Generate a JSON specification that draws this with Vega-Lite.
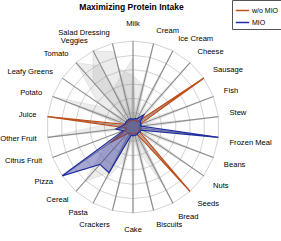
{
  "$schema": "https://vega.github.io/schema/vega-lite/v6.json",
  "width": 281,
  "height": 221,
  "autosize": {"type": "none"},
  "padding": {"top": 20, "left": 0, "right": 0, "bottom": 0},
  "title": {"text": "Maximizing Protein Intake", "frame": "group", "fontSize": 8.5, "font": "Liberation Sans", "fontWeight": "bold", "offset": -12, "dx": -9, "anchor": "middle", "color": "#000000"},
  "config": {"view": {"stroke": null}, "font": "Liberation Sans"},
  "datasets": {
    "cats": [
      {"cat": "Milk", "i": 0, "wo": 0.08, "mio": 0.09, "g1": 0.1, "g2": 0.1, "g3": 0.8, "g4": 0.1, "g5": 0.1, "g6": 0.1, "g7": 0.1, "g8": 0.1, "g9": 0.1, "g10": 0.6, "g11": 0.1, "g12": 0.1, "g13": 0.9},
      {"cat": "Cream", "i": 1, "wo": 0.08, "mio": 0.1, "g1": 0.1, "g2": 0.1, "g3": 0.1, "g4": 0.1, "g5": 0.1, "g6": 0.1, "g7": 0.1, "g8": 0.1, "g9": 0.1, "g10": 0.5, "g11": 0.1, "g12": 1.0, "g13": 0.1},
      {"cat": "Ice Cream", "i": 2, "wo": 0.08, "mio": 0.11, "g1": 0.1, "g2": 0.1, "g3": 0.1, "g4": 0.1, "g5": 0.1, "g6": 0.1, "g7": 0.1, "g8": 0.1, "g9": 0.1, "g10": 0.1, "g11": 1.0, "g12": 0.1, "g13": 0.1},
      {"cat": "Cheese", "i": 3, "wo": 0.08, "mio": 0.19, "g1": 0.1, "g2": 0.1, "g3": 0.1, "g4": 0.1, "g5": 0.1, "g6": 0.1, "g7": 0.1, "g8": 0.1, "g9": 0.1, "g10": 0.1, "g11": 0.1, "g12": 0.1, "g13": 1.0},
      {"cat": "Sausage", "i": 4, "wo": 1.0, "mio": 0.1, "g1": 0.1, "g2": 0.1, "g3": 0.1, "g4": 0.1, "g5": 0.1, "g6": 0.1, "g7": 0.1, "g8": 0.1, "g9": 0.1, "g10": 0.1, "g11": 0.1, "g12": 0.1, "g13": 0.1},
      {"cat": "Fish", "i": 5, "wo": 0.08, "mio": 0.1, "g1": 0.1, "g2": 0.1, "g3": 0.1, "g4": 0.1, "g5": 0.1, "g6": 0.1, "g7": 0.1, "g8": 0.1, "g9": 0.1, "g10": 0.1, "g11": 0.1, "g12": 0.9, "g13": 0.1},
      {"cat": "Stew", "i": 6, "wo": 0.08, "mio": 0.09, "g1": 0.1, "g2": 0.1, "g3": 0.1, "g4": 0.1, "g5": 0.1, "g6": 0.1, "g7": 0.1, "g8": 0.1, "g9": 0.1, "g10": 0.1, "g11": 0.85, "g12": 0.1, "g13": 0.1},
      {"cat": "Frozen Meal", "i": 7, "wo": 0.08, "mio": 1.0, "g1": 0.1, "g2": 0.1, "g3": 0.1, "g4": 0.1, "g5": 0.1, "g6": 0.1, "g7": 0.1, "g8": 0.1, "g9": 0.1, "g10": 0.1, "g11": 0.1, "g12": 0.1, "g13": 0.1},
      {"cat": "Beans", "i": 8, "wo": 0.08, "mio": 0.1, "g1": 0.1, "g2": 0.1, "g3": 0.1, "g4": 0.1, "g5": 0.1, "g6": 0.1, "g7": 0.1, "g8": 0.1, "g9": 0.1, "g10": 0.1, "g11": 0.1, "g12": 1.0, "g13": 0.1},
      {"cat": "Nuts", "i": 9, "wo": 0.08, "mio": 0.1, "g1": 0.1, "g2": 0.1, "g3": 0.1, "g4": 0.1, "g5": 0.1, "g6": 0.1, "g7": 0.1, "g8": 0.1, "g9": 0.1, "g10": 0.1, "g11": 1.0, "g12": 0.1, "g13": 0.1},
      {"cat": "Seeds", "i": 10, "wo": 1.0, "mio": 0.09, "g1": 0.1, "g2": 0.1, "g3": 0.1, "g4": 0.1, "g5": 0.1, "g6": 0.1, "g7": 0.1, "g8": 0.1, "g9": 0.1, "g10": 0.1, "g11": 0.1, "g12": 0.1, "g13": 0.1},
      {"cat": "Bread", "i": 11, "wo": 0.08, "mio": 0.1, "g1": 0.1, "g2": 0.1, "g3": 0.1, "g4": 0.1, "g5": 0.1, "g6": 1.0, "g7": 0.8, "g8": 0.1, "g9": 0.1, "g10": 0.1, "g11": 0.1, "g12": 0.1, "g13": 0.1},
      {"cat": "Biscuits", "i": 12, "wo": 0.08, "mio": 0.1, "g1": 0.1, "g2": 0.1, "g3": 0.1, "g4": 0.1, "g5": 0.1, "g6": 0.1, "g7": 0.3, "g8": 0.1, "g9": 0.1, "g10": 0.1, "g11": 0.1, "g12": 1.0, "g13": 0.1},
      {"cat": "Cake", "i": 13, "wo": 0.08, "mio": 0.1, "g1": 0.1, "g2": 0.1, "g3": 0.1, "g4": 0.1, "g5": 0.1, "g6": 0.1, "g7": 0.1, "g8": 0.1, "g9": 0.1, "g10": 0.1, "g11": 1.0, "g12": 0.1, "g13": 0.1},
      {"cat": "Crackers", "i": 14, "wo": 0.08, "mio": 0.1, "g1": 0.1, "g2": 0.1, "g3": 0.1, "g4": 0.1, "g5": 0.1, "g6": 0.1, "g7": 0.1, "g8": 0.1, "g9": 0.4, "g10": 0.1, "g11": 0.1, "g12": 0.1, "g13": 0.95},
      {"cat": "Pasta", "i": 15, "wo": 0.08, "mio": 0.6, "g1": 0.1, "g2": 0.1, "g3": 0.1, "g4": 0.1, "g5": 0.1, "g6": 0.1, "g7": 0.1, "g8": 0.6, "g9": 0.7, "g10": 0.1, "g11": 0.1, "g12": 0.1, "g13": 0.1},
      {"cat": "Cereal", "i": 16, "wo": 0.1, "mio": 0.58, "g1": 0.1, "g2": 0.1, "g3": 0.1, "g4": 0.1, "g5": 0.1, "g6": 0.1, "g7": 0.1, "g8": 0.85, "g9": 0.1, "g10": 0.1, "g11": 0.1, "g12": 0.1, "g13": 0.1},
      {"cat": "Pizza", "i": 17, "wo": 0.32, "mio": 1.0, "g1": 0.1, "g2": 0.1, "g3": 0.1, "g4": 0.1, "g5": 0.1, "g6": 0.1, "g7": 0.1, "g8": 0.4, "g9": 0.1, "g10": 0.1, "g11": 0.1, "g12": 0.1, "g13": 0.1},
      {"cat": "Citrus Fruit", "i": 18, "wo": 0.08, "mio": 0.12, "g1": 0.1, "g2": 0.1, "g3": 0.1, "g4": 0.1, "g5": 0.1, "g6": 0.1, "g7": 0.1, "g8": 0.1, "g9": 0.1, "g10": 0.1, "g11": 0.1, "g12": 0.1, "g13": 0.1},
      {"cat": "Other Fruit", "i": 19, "wo": 0.08, "mio": 0.2, "g1": 0.1, "g2": 0.1, "g3": 0.1, "g4": 0.1, "g5": 1.0, "g6": 0.1, "g7": 0.1, "g8": 0.1, "g9": 0.1, "g10": 0.1, "g11": 0.1, "g12": 0.1, "g13": 0.1},
      {"cat": "Juice", "i": 20, "wo": 1.0, "mio": 0.12, "g1": 0.1, "g2": 0.1, "g3": 0.1, "g4": 0.1, "g5": 0.3, "g6": 0.1, "g7": 0.1, "g8": 0.1, "g9": 0.1, "g10": 0.1, "g11": 0.1, "g12": 0.1, "g13": 0.1},
      {"cat": "Potato", "i": 21, "wo": 0.08, "mio": 0.1, "g1": 0.1, "g2": 0.1, "g3": 0.1, "g4": 1.0, "g5": 0.1, "g6": 0.1, "g7": 0.1, "g8": 0.1, "g9": 0.1, "g10": 0.1, "g11": 0.1, "g12": 0.1, "g13": 0.8},
      {"cat": "Leafy Greens", "i": 22, "wo": 0.08, "mio": 0.1, "g1": 0.1, "g2": 0.5, "g3": 0.1, "g4": 0.4, "g5": 0.1, "g6": 0.1, "g7": 0.1, "g8": 0.1, "g9": 0.1, "g10": 0.1, "g11": 0.1, "g12": 0.1, "g13": 0.1},
      {"cat": "Tomato", "i": 23, "wo": 0.08, "mio": 0.1, "g1": 0.7, "g2": 1.0, "g3": 0.1, "g4": 0.1, "g5": 0.1, "g6": 0.1, "g7": 0.1, "g8": 0.1, "g9": 0.1, "g10": 0.1, "g11": 0.1, "g12": 0.1, "g13": 0.1},
      {"cat": "Veggies", "i": 24, "wo": 0.08, "mio": 0.1, "g1": 1.0, "g2": 0.8, "g3": 0.5, "g4": 0.1, "g5": 0.1, "g6": 0.1, "g7": 0.1, "g8": 0.1, "g9": 0.1, "g10": 0.1, "g11": 0.1, "g12": 0.1, "g13": 0.1},
      {"cat": "Salad Dressing", "i": 25, "wo": 0.08, "mio": 0.1, "g1": 0.9, "g2": 0.1, "g3": 0.6, "g4": 0.1, "g5": 0.1, "g6": 0.1, "g7": 0.1, "g8": 0.1, "g9": 0.1, "g10": 0.7, "g11": 0.1, "g12": 0.1, "g13": 0.1}
    ],
    "rings": [
      {"ring": 1, "i": [0,1,2,3,4,5,6,7,8,9,10,11,12,13,14,15,16,17,18,19,20,21,22,23,24,25]},
      {"ring": 2, "i": [0,1,2,3,4,5,6,7,8,9,10,11,12,13,14,15,16,17,18,19,20,21,22,23,24,25]},
      {"ring": 3, "i": [0,1,2,3,4,5,6,7,8,9,10,11,12,13,14,15,16,17,18,19,20,21,22,23,24,25]},
      {"ring": 4, "i": [0,1,2,3,4,5,6,7,8,9,10,11,12,13,14,15,16,17,18,19,20,21,22,23,24,25]},
      {"ring": 5, "i": [0,1,2,3,4,5,6,7,8,9,10,11,12,13,14,15,16,17,18,19,20,21,22,23,24,25]},
      {"ring": 6, "i": [0,1,2,3,4,5,6,7,8,9,10,11,12,13,14,15,16,17,18,19,20,21,22,23,24,25]}
    ]
  },
  "layer": [
    {
      "data": {"name": "rings"},
      "transform": [
        {"flatten": ["i"]},
        {"calculate": "datum.ring / 6 * sin(datum.i * 2 * PI / 26)", "as": "x"},
        {"calculate": "datum.ring / 6 * cos(datum.i * 2 * PI / 26)", "as": "y"}
      ],
      "mark": {"type": "line", "interpolate": "linear-closed", "stroke": "#c8c8c8", "strokeWidth": 0.8},
      "encoding": {
        "x": {"field": "x", "type": "quantitative", "axis": null, "scale": {"domain": [-1.5465, 1.7209], "nice": false, "zero": false}},
        "y": {"field": "y", "type": "quantitative", "axis": null, "scale": {"domain": [-1.3256, 1.2442], "nice": false, "zero": false}},
        "detail": {"field": "ring", "type": "nominal"},
        "order": {"field": "i", "type": "quantitative"}
      }
    },
    {
      "data": {"name": "cats"},
      "transform": [
        {"fold": ["g1", "g2", "g3", "g4", "g5", "g6", "g7", "g8", "g9", "g10", "g11", "g12", "g13"], "as": ["sample", "v"]},
        {"calculate": "datum.v * sin(datum.i * 2 * PI / 26)", "as": "x"},
        {"calculate": "datum.v * cos(datum.i * 2 * PI / 26)", "as": "y"}
      ],
      "mark": {"type": "line", "interpolate": "linear-closed", "fill": "#7a7a7a", "fillOpacity": 0.14, "stroke": "#777777", "strokeOpacity": 0.25, "strokeWidth": 0.5},
      "encoding": {
        "x": {"field": "x", "type": "quantitative", "axis": null, "scale": {"domain": [-1.5465, 1.7209], "nice": false, "zero": false}},
        "y": {"field": "y", "type": "quantitative", "axis": null, "scale": {"domain": [-1.3256, 1.2442], "nice": false, "zero": false}},
        "detail": {"field": "sample", "type": "nominal"},
        "order": {"field": "i", "type": "quantitative"}
      }
    },
    {
      "data": {"name": "cats"},
      "transform": [
        {"calculate": "0", "as": "cx"},
        {"calculate": "0", "as": "cy"},
        {"calculate": "sin(datum.i * 2 * PI / 26)", "as": "sx"},
        {"calculate": "cos(datum.i * 2 * PI / 26)", "as": "sy"}
      ],
      "mark": {"type": "rule", "stroke": "#8c8c8c", "strokeWidth": 1.1},
      "encoding": {
        "x": {"field": "cx", "type": "quantitative", "axis": null, "scale": {"domain": [-1.5465, 1.7209], "nice": false, "zero": false}},
        "y": {"field": "cy", "type": "quantitative", "axis": null, "scale": {"domain": [-1.3256, 1.2442], "nice": false, "zero": false}},
        "x2": {"field": "sx"},
        "y2": {"field": "sy"}
      }
    },
    {
      "data": {"name": "cats"},
      "transform": [
        {"calculate": "'w/o MIO'", "as": "series"},
        {"calculate": "datum.wo * sin(datum.i * 2 * PI / 26)", "as": "x"},
        {"calculate": "datum.wo * cos(datum.i * 2 * PI / 26)", "as": "y"}
      ],
      "mark": {"type": "line", "interpolate": "linear-closed", "strokeWidth": 1.3},
      "encoding": {
        "x": {"field": "x", "type": "quantitative", "axis": null, "scale": {"domain": [-1.5465, 1.7209], "nice": false, "zero": false}},
        "y": {"field": "y", "type": "quantitative", "axis": null, "scale": {"domain": [-1.3256, 1.2442], "nice": false, "zero": false}},
        "color": {"field": "series", "type": "nominal", "scale": {"domain": ["w/o MIO", "MIO"], "range": ["#c0501a", "#1f2ea3"]}, "legend": {"title": null, "orient": "none", "legendX": 232, "legendY": -20, "fillColor": "#ffffff", "strokeColor": "#555555", "padding": 3, "symbolType": "stroke", "symbolSize": 180, "symbolStrokeWidth": 1.5, "labelFontSize": 7, "labelFont": "Liberation Sans", "labelColor": "#000000", "rowPadding": 1, "labelOffset": 2}},
        "order": {"field": "i", "type": "quantitative"}
      }
    },
    {
      "data": {"name": "cats"},
      "transform": [
        {"calculate": "datum.mio * sin(datum.i * 2 * PI / 26)", "as": "x"},
        {"calculate": "datum.mio * cos(datum.i * 2 * PI / 26)", "as": "y"}
      ],
      "mark": {"type": "line", "interpolate": "linear-closed", "fill": "#3a3f9e", "fillOpacity": 0.45, "strokeOpacity": 0},
      "encoding": {
        "x": {"field": "x", "type": "quantitative", "axis": null, "scale": {"domain": [-1.5465, 1.7209], "nice": false, "zero": false}},
        "y": {"field": "y", "type": "quantitative", "axis": null, "scale": {"domain": [-1.3256, 1.2442], "nice": false, "zero": false}},
        "order": {"field": "i", "type": "quantitative"}
      }
    },
    {
      "data": {"name": "cats"},
      "transform": [
        {"calculate": "'MIO'", "as": "series"},
        {"calculate": "datum.mio * sin(datum.i * 2 * PI / 26)", "as": "x"},
        {"calculate": "datum.mio * cos(datum.i * 2 * PI / 26)", "as": "y"}
      ],
      "mark": {"type": "line", "interpolate": "linear-closed", "strokeWidth": 1.2},
      "encoding": {
        "x": {"field": "x", "type": "quantitative", "axis": null, "scale": {"domain": [-1.5465, 1.7209], "nice": false, "zero": false}},
        "y": {"field": "y", "type": "quantitative", "axis": null, "scale": {"domain": [-1.3256, 1.2442], "nice": false, "zero": false}},
        "color": {"field": "series", "type": "nominal"},
        "order": {"field": "i", "type": "quantitative"}
      }
    },
    {
      "data": {"name": "cats"},
      "transform": [
        {"filter": "datum.i >= 1 && datum.i <= 6"},
        {"calculate": "1.13 * sin(datum.i * 2 * PI / 26)", "as": "x"},
        {"calculate": "1.13 * cos(datum.i * 2 * PI / 26)", "as": "y"}
      ],
      "mark": {"type": "text", "align": "left", "baseline": "middle", "dy": -2, "fontSize": 7.6, "font": "Liberation Sans", "fill": "#000000"},
      "encoding": {
        "x": {"field": "x", "type": "quantitative", "axis": null, "scale": {"domain": [-1.5465, 1.7209], "nice": false, "zero": false}},
        "y": {"field": "y", "type": "quantitative", "axis": null, "scale": {"domain": [-1.3256, 1.2442], "nice": false, "zero": false}},
        "text": {"field": "cat", "type": "nominal"}
      }
    },
    {
      "data": {"name": "cats"},
      "transform": [
        {"filter": "datum.i >= 7 && datum.i <= 12"},
        {"calculate": "1.13 * sin(datum.i * 2 * PI / 26)", "as": "x"},
        {"calculate": "1.13 * cos(datum.i * 2 * PI / 26)", "as": "y"}
      ],
      "mark": {"type": "text", "align": "left", "baseline": "top", "fontSize": 7.6, "font": "Liberation Sans", "fill": "#000000"},
      "encoding": {
        "x": {"field": "x", "type": "quantitative", "axis": null, "scale": {"domain": [-1.5465, 1.7209], "nice": false, "zero": false}},
        "y": {"field": "y", "type": "quantitative", "axis": null, "scale": {"domain": [-1.3256, 1.2442], "nice": false, "zero": false}},
        "text": {"field": "cat", "type": "nominal"}
      }
    },
    {
      "data": {"name": "cats"},
      "transform": [
        {"filter": "datum.i >= 15"},
        {"calculate": "1.13 * sin(datum.i * 2 * PI / 26)", "as": "x"},
        {"calculate": "1.13 * cos(datum.i * 2 * PI / 26)", "as": "y"}
      ],
      "mark": {"type": "text", "align": "right", "baseline": "middle", "fontSize": 7.6, "font": "Liberation Sans", "fill": "#000000"},
      "encoding": {
        "x": {"field": "x", "type": "quantitative", "axis": null, "scale": {"domain": [-1.5465, 1.7209], "nice": false, "zero": false}},
        "y": {"field": "y", "type": "quantitative", "axis": null, "scale": {"domain": [-1.3256, 1.2442], "nice": false, "zero": false}},
        "text": {"field": "cat", "type": "nominal"}
      }
    },
    {
      "data": {"name": "cats"},
      "transform": [
        {"filter": "datum.i == 14"},
        {"calculate": "1.13 * sin(datum.i * 2 * PI / 26)", "as": "x"},
        {"calculate": "1.13 * cos(datum.i * 2 * PI / 26)", "as": "y"}
      ],
      "mark": {"type": "text", "align": "right", "baseline": "top", "fontSize": 7.6, "font": "Liberation Sans", "fill": "#000000"},
      "encoding": {
        "x": {"field": "x", "type": "quantitative", "axis": null, "scale": {"domain": [-1.5465, 1.7209], "nice": false, "zero": false}},
        "y": {"field": "y", "type": "quantitative", "axis": null, "scale": {"domain": [-1.3256, 1.2442], "nice": false, "zero": false}},
        "text": {"field": "cat", "type": "nominal"}
      }
    },
    {
      "data": {"name": "cats"},
      "transform": [
        {"filter": "datum.i == 0 || datum.i == 13"},
        {"calculate": "1.2 * sin(datum.i * 2 * PI / 26)", "as": "x"},
        {"calculate": "1.2 * cos(datum.i * 2 * PI / 26)", "as": "y"}
      ],
      "mark": {"type": "text", "align": "center", "baseline": "middle", "fontSize": 7.6, "font": "Liberation Sans", "fill": "#000000"},
      "encoding": {
        "x": {"field": "x", "type": "quantitative", "axis": null, "scale": {"domain": [-1.5465, 1.7209], "nice": false, "zero": false}},
        "y": {"field": "y", "type": "quantitative", "axis": null, "scale": {"domain": [-1.3256, 1.2442], "nice": false, "zero": false}},
        "text": {"field": "cat", "type": "nominal"}
      }
    }
  ]
}
